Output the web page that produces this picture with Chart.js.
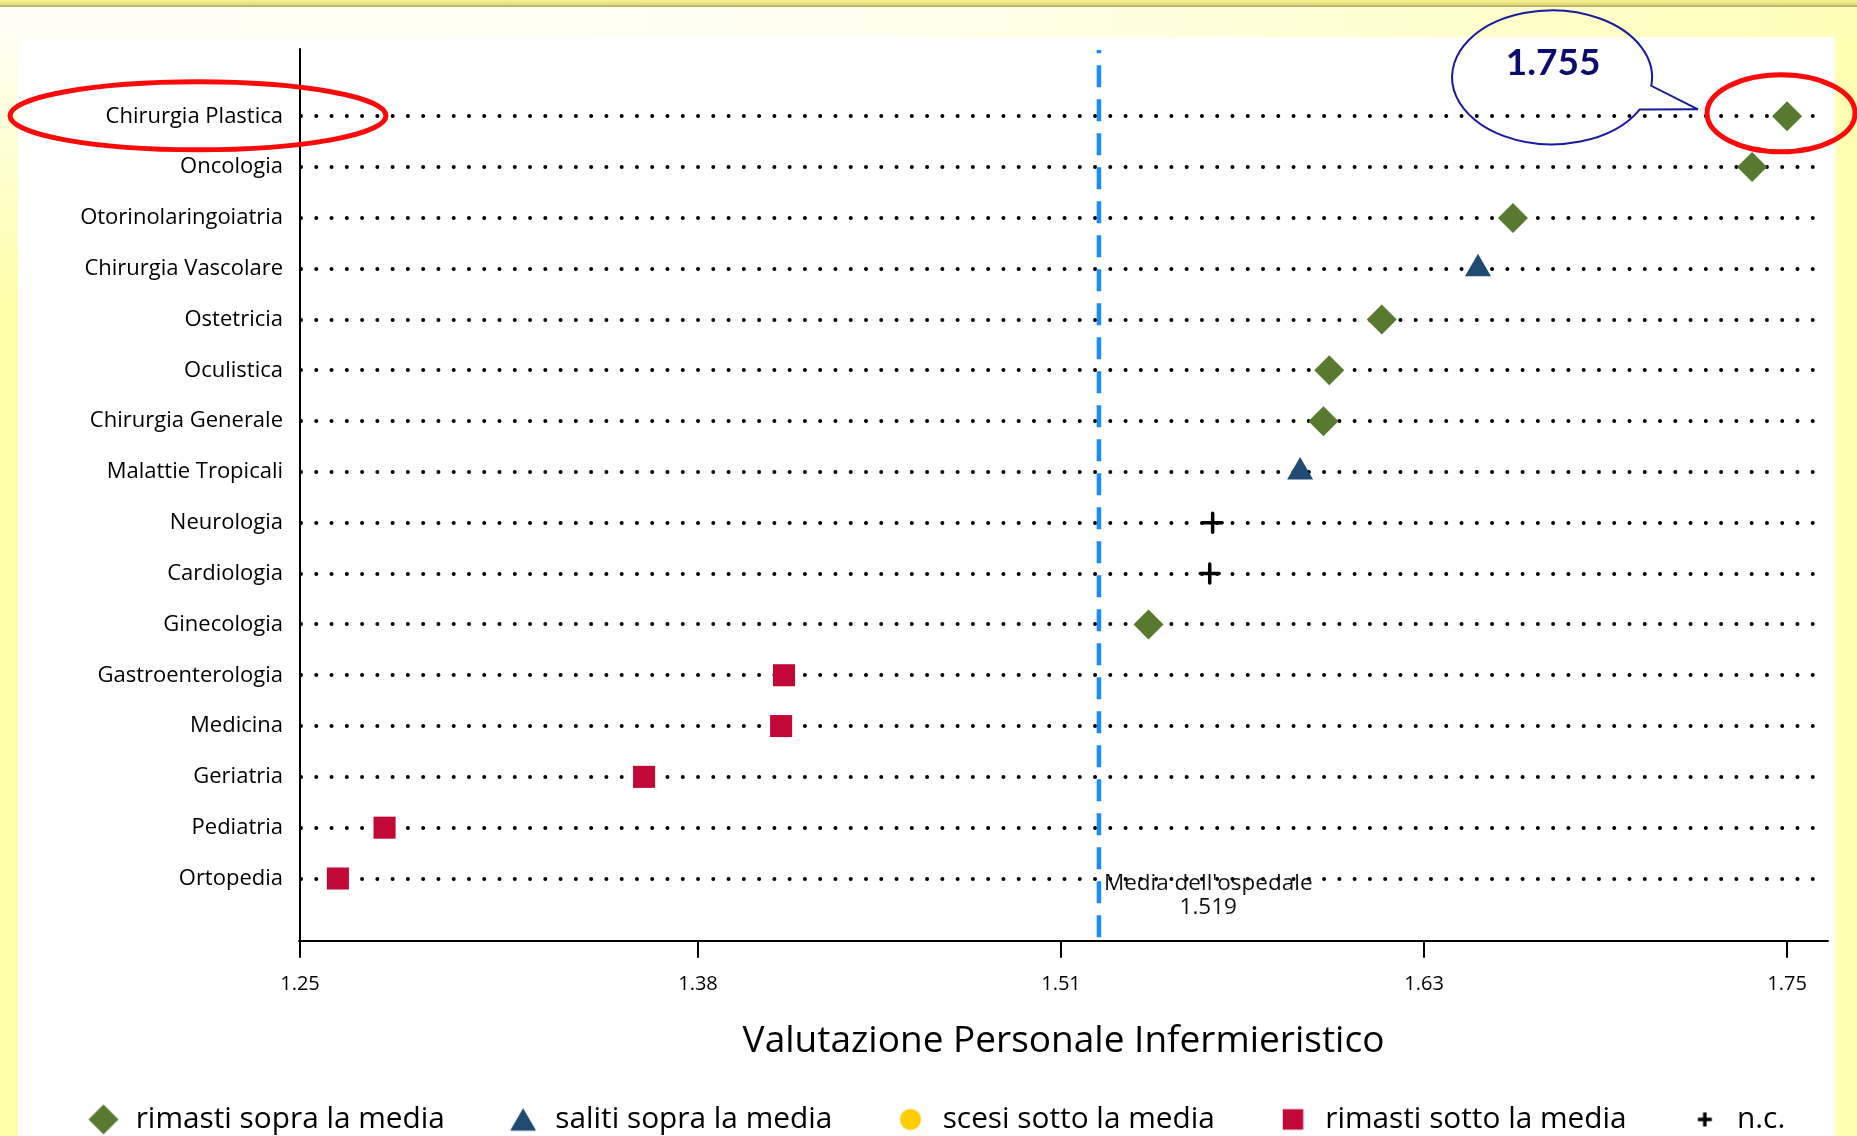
<!DOCTYPE html>
<html lang="it">
<head>
<meta charset="utf-8">
<title>Valutazione Personale Infermieristico</title>
<script src="https://cdn.jsdelivr.net/npm/chart.js@4.4.1/dist/chart.umd.min.js"></script>
<style>
  html, body { margin: 0; padding: 0; overflow: hidden; }
  body { width: 1857px; height: 1136px; position: relative; background: #ffffb2; }
  .top-band { position: absolute; left: 0; top: 0; width: 1857px; height: 37px;
    background: linear-gradient(90deg, #fffff6 0%, #fffff0 45%, #ffffb8 100%); }
  .top-line { position: absolute; left: 0; top: 0; width: 1857px; height: 7px;
    background: linear-gradient(#f6f290, #e9e47e 55%, #aaa56a); }
  .left-strip { position: absolute; left: 0; top: 37px; width: 18px; height: 1099px;
    background: linear-gradient(#fffff2, #ffffa8 25%); }
  .panel { position: absolute; left: 18px; top: 37px; width: 1817px; height: 1099px; background: #fff; }
  #chart { position: absolute; left: 0; top: 0; }
</style>
</head>
<body>
<div class="top-band"></div>
<div class="top-line"></div>
<div class="left-strip"></div>
<div class="panel"></div>
<canvas id="chart" width="1857" height="1136"></canvas>
<script>
// reparti, dall'alto in basso
const categories = ['Chirurgia Plastica', 'Oncologia', 'Otorinolaringoiatria', 'Chirurgia Vascolare',
    'Ostetricia', 'Oculistica', 'Chirurgia Generale', 'Malattie Tropicali', 'Neurologia', 'Cardiologia',
    'Ginecologia', 'Gastroenterologia', 'Medicina', 'Geriatria', 'Pediatria', 'Ortopedia'];
const scores = [1.755, 1.743, 1.661, 1.649, 1.616, 1.598, 1.596, 1.588, 1.558, 1.557,
    1.536, 1.411, 1.410, 1.363, 1.274, 1.258];
const status = ['sopra', 'sopra', 'sopra', 'saliti', 'sopra', 'sopra', 'sopra', 'saliti', 'nc', 'nc',
    'sopra', 'sotto', 'sotto', 'sotto', 'sotto', 'sotto'];
const hospitalMean = 1.519;
const meanLabel = "Media dell'ospedale";

const groupKeys = ['sopra', 'saliti', 'scesi', 'sotto', 'nc'];
const groupLabels = ['rimasti sopra la media', 'saliti sopra la media', 'scesi sotto la media',
    'rimasti sotto la media', 'n.c.'];

const tickValues = [1.245, 1.3815, 1.506, 1.6305, 1.755];
const tickLabels = ['1.25', '1.38', '1.51', '1.63', '1.75'];
const X_MIN = 1.245, X_MAX = 1.7687;
const Y_MIN = -1.305, Y_MAX = 16.23;

const groupStyle = {
    sopra: {pointStyle: 'rectRot', radius: 15, color: '#587a2f', legendRadius: 15},
    saliti: {pointStyle: 'triangle', radius: 15, color: '#1e4a73', legendRadius: 15},
    scesi: {pointStyle: 'circle', radius: 11, color: '#ffcc00', legendRadius: 10.5},
    sotto: {pointStyle: 'rect', radius: 15.6, color: '#c10837', legendRadius: 14.5},
    nc: {pointStyle: 'cross', radius: 9.5, color: '#000000', legendRadius: 7, line: 3.5}
};

Chart.defaults.font.family = '"Open Sans", sans-serif';
Chart.defaults.color = '#000';

// icona della legenda, simbolo spostato a destra del centro
function legendIcon(st) {
    const c = document.createElement('canvas');
    c.width = 80;
    c.height = 40;
    const g = c.getContext('2d');
    g.fillStyle = st.color;
    g.strokeStyle = st.color;
    g.lineWidth = st.line || 0;
    const dy = st.pointStyle === 'triangle' ? st.legendRadius / 4 : 0;
    Chart.helpers.drawPoint(g, {pointStyle: st.pointStyle, radius: st.legendRadius, borderWidth: st.line || 0}, 52.2, 20 + dy);
    return c;
}

const datasets = groupKeys.map((key, k) => {
    const st = groupStyle[key];
    return {
        label: groupLabels[k],
        data: categories.map((c, i) => status[i] === key ? {x: scores[i], y: i} : null).filter(p => p),
        pointStyle: st.pointStyle,
        pointRadius: st.radius,
        pointHoverRadius: st.radius,
        backgroundColor: st.color,
        borderColor: st.color,
        pointBorderWidth: st.line || 0
    };
});
datasets.push({
    label: meanLabel,
    data: [{x: hospitalMean, y: Y_MIN}, {x: hospitalMean, y: Y_MAX}],
    showLine: true,
    borderColor: '#1a8cff',
    borderWidth: 4.5,
    borderDash: [22, 12],
    borderDashOffset: 18.8,
    pointRadius: 0
});

const decorations = {
    id: 'decorations',
    beforeDraw(chart) {
        // dotted grid lines
        chart.ctx.lineCap = 'round';
    },
    afterDatasetsDraw(chart) {
        const {ctx, scales: {x, y}} = chart;
        const mx = x.getPixelForValue(hospitalMean);
        const ry = y.getPixelForValue(categories.length - 1);
        ctx.save();
        ctx.font = '22.5px "Open Sans"';
        ctx.fillStyle = '#111';
        ctx.textBaseline = 'middle';
        ctx.textAlign = 'center';
        const w = ctx.measureText(meanLabel).width;
        const cx = mx + 5 + w / 2;
        ctx.fillText(meanLabel, cx, ry + 5.3);
        ctx.fillText(hospitalMean.toFixed(3), cx, ry + 29);
        ctx.restore();
    },
    afterDraw(chart) {
        const {ctx, scales: {x, y}} = chart;
        const px = x.getPixelForValue(scores[0]);
        const py = y.getPixelForValue(0);
        ctx.save();
        ctx.lineCap = 'butt';
        ctx.strokeStyle = '#fb0a0a';
        ctx.lineWidth = 5;
        ctx.beginPath();
        ctx.ellipse(198, py - 0.5, 188, 34, 0, 0, Math.PI * 2);
        ctx.stroke();
        ctx.beginPath();
        ctx.ellipse(px - 6, py - 3, 74, 38.5, 0, 0, Math.PI * 2);
        ctx.stroke();

        // fumetto
        const bx = px - 235, by = py - 39;
        const tB = Math.atan2(0.48, 0.88), tA = Math.atan2(0.127, 0.997);
        ctx.strokeStyle = '#1a1aa0';
        ctx.lineWidth = 2;
        ctx.beginPath();
        ctx.moveTo(px - 89, py - 7);
        ctx.lineTo(bx + 100 * Math.cos(tB), by + 67 * Math.sin(tB));
        ctx.ellipse(bx, by, 100, 67, 0, tB, tA + Math.PI * 2);
        ctx.lineTo(px - 89, py - 7);
        ctx.stroke();
        ctx.font = 'bold 37px Lato';
        ctx.fillStyle = '#0c0c70';
        ctx.textAlign = 'center';
        ctx.textBaseline = 'middle';
        ctx.fillText(scores[0].toFixed(3), bx + 1, by - 14);
        ctx.restore();
    }
};

new Chart(document.getElementById('chart'), {
    type: 'scatter',
    data: {datasets: datasets},
    options: {
        responsive: false,
        animation: false,
        events: [],
        layout: {padding: {top: 50, left: 0, right: 10, bottom: 0}},
        scales: {
            x: {
                type: 'linear',
                min: X_MIN,
                max: X_MAX,
                afterBuildTicks: s => { s.ticks = tickValues.map(v => ({value: v})); },
                afterFit: s => { s.height = 127; },
                ticks: {
                    callback: (v, i) => tickLabels[i],
                    padding: 15.5,
                    autoSkip: false,
                    maxRotation: 0,
                    font: {size: 20}
                },
                grid: {
                    drawOnChartArea: false,
                    drawTicks: true,
                    tickLength: 16,
                    tickWidth: 2,
                    tickColor: '#000',
                    color: '#000',
                    lineWidth: 2
                },
                border: {color: '#000', width: 2},
                title: {
                    display: true,
                    text: 'Valutazione Personale Infermieristico',
                    font: {size: 37},
                    padding: {top: 0, bottom: 4}
                }
            },
            y: {
                type: 'linear',
                reverse: true,
                min: Y_MIN,
                max: Y_MAX,
                afterBuildTicks: s => { s.ticks = categories.map((c, i) => ({value: i})); },
                afterFit: s => { s.width = 300; },
                ticks: {
                    callback: v => categories[v],
                    padding: 17,
                    autoSkip: false,
                    font: {size: 22}
                },
                grid: {color: '#000', lineWidth: 4, drawTicks: false},
                border: {display: true, color: '#000', width: 2, dash: [0, 15.27]}
            },
            yRight: {
                type: 'linear',
                position: 'right',
                afterFit: s => { s.width = 20; },
                grid: {display: false, drawTicks: false},
                ticks: {display: false},
                border: {display: false}
            }
        },
        plugins: {
            tooltip: {enabled: false},
            legend: {
                position: 'bottom',
                maxHeight: 68,
                labels: {
                    usePointStyle: true,
                    pointStyleWidth: 59,
                    boxHeight: 28,
                    padding: 36.5,
                    font: {size: 29.8},
                    generateLabels: () => groupKeys.map((key, k) => ({
                        text: groupLabels[k],
                        pointStyle: legendIcon(groupStyle[key]),
                        fillStyle: groupStyle[key].color,
                        strokeStyle: groupStyle[key].color,
                        lineWidth: 0,
                        hidden: false,
                        datasetIndex: k,
                        fontColor: '#000'
                    }))
                }
            }
        }
    },
    plugins: [decorations]
});
</script>
</body>
</html>
